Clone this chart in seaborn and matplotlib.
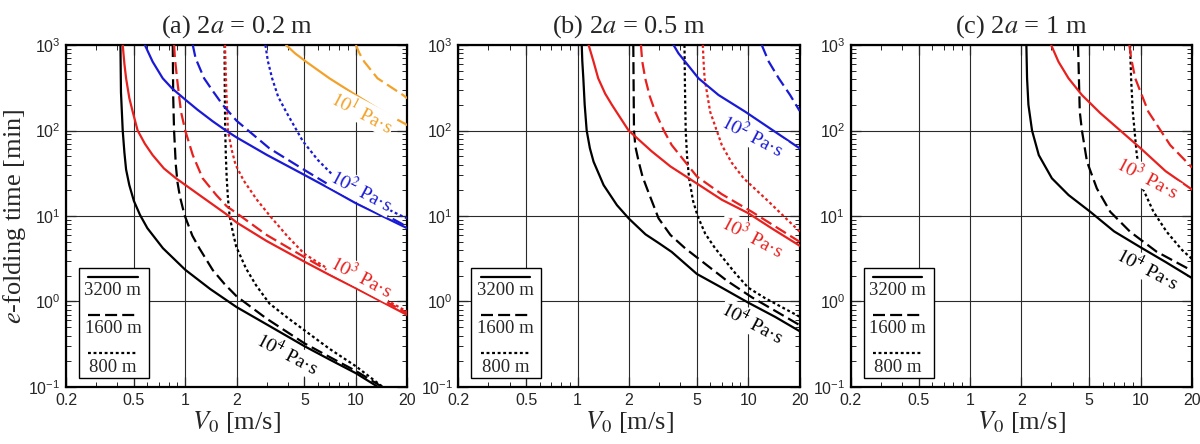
import numpy as np
import pandas as pd
import matplotlib.pyplot as plt
import seaborn as sns
from matplotlib.ticker import NullFormatter

# %%
# values: V0 [m/s] and e-folding time [min]
# naming: <panel>_e<log10 viscosity>_<length in m>

# (a) 2a = 0.2 m
a_e4_3200_V = [0.417, 0.42, 0.43, 0.44, 0.45, 0.47, 0.50, 0.543, 0.60, 0.74, 1.0, 1.4, 2.0, 3.0, 5.0, 7.0, 10.0, 13.5]
a_e4_3200_t = [1000, 280, 100, 55, 35, 23, 15, 10.3, 7.2, 4.2, 2.35, 1.4, 0.86, 0.54, 0.30, 0.21, 0.145, 0.1]
a_e4_1600_V = [0.845, 0.85, 0.86, 0.88, 0.90, 0.93, 0.99, 1.1, 1.21, 1.45, 1.7, 2.0, 3.0, 5.0, 7.0, 10.0, 14.3]
a_e4_1600_t = [1000, 250, 100, 40, 25, 17, 10.3, 5.9, 4.19, 2.33, 1.6, 1.15, 0.63, 0.324, 0.225, 0.154, 0.1]
a_e4_800_V = [1.70, 1.705, 1.715, 1.73, 1.75, 1.78, 1.82, 1.90, 1.99, 2.27, 2.6, 3.11, 4.0, 5.0, 7.0, 10.0, 14.4]
a_e4_800_t = [1000, 300, 100, 50, 27.6, 16, 10.0, 6.5, 4.37, 2.44, 1.55, 0.95, 0.64, 0.46, 0.28, 0.175, 0.1]

a_e3_3200_V = [0.43, 0.44, 0.45, 0.47, 0.492, 0.526, 0.58, 0.644, 0.75, 0.883, 1.21, 1.73, 2.0, 3.0, 5.0, 7.0, 10.0, 20.0]
a_e3_3200_t = [1000, 600, 408, 240, 166, 100, 70, 51.6, 36, 27.6, 17.6, 10.6, 8.4, 5.1, 2.92, 2.05, 1.43, 0.695]
a_e3_1600_V = [0.86, 0.87, 0.895, 0.944, 1.0, 1.107, 1.265, 1.52, 1.75, 2.0, 3.0, 5.0, 7.0, 10.0, 20.0]
a_e3_1600_t = [1000, 700, 408, 166, 100, 51.6, 27.6, 17.6, 13.0, 10.8, 6.0, 3.3, 2.25, 1.55, 0.73]
a_e3_800_V = [1.71, 1.74, 1.78, 1.87, 1.97, 2.2, 2.63, 3.14, 4.0, 5.0, 7.0, 10.0, 20.0]
a_e3_800_t = [1000, 300, 100, 60, 40, 26, 15.5, 10.0, 5.7, 3.6, 2.35, 1.65, 0.76]

a_e2_3200_V = [0.58, 0.644, 0.738, 0.837, 1.0, 1.18, 1.45, 1.73, 2.0, 3.0, 5.0, 7.0, 10.0, 20.0]
a_e2_3200_t = [1000, 638, 408, 311, 230, 175, 128, 100, 83, 52, 30.2, 21, 14.1, 7.2]
a_e2_1600_V = [1.107, 1.15, 1.29, 1.45, 1.66, 2.0, 3.11, 5.0, 7.0, 10.0, 20.0]
a_e2_1600_t = [1000, 700, 408, 290, 199, 130, 62, 34.5, 23, 15.8, 7.5]
a_e2_800_V = [2.95, 3.05, 3.23, 3.50, 3.90, 4.89, 6.0, 7.67, 10.0, 12.6, 18.0, 20.0]
a_e2_800_t = [1000, 650, 408, 250, 166, 75, 45, 27.5, 19.5, 14.7, 10.3, 9.4]

a_e1_3200_V = [3.90, 4.4, 5.11, 7.0, 10.0, 14.4, 20.0]
a_e1_3200_t = [1000, 800, 638, 408, 260, 166, 116]
a_e1_1600_V = [10.0, 10.5, 11.2, 13.4, 18.9, 20.0]
a_e1_1600_t = [1000, 800, 638, 408, 260, 238]

# (b) 2a = 0.5 m
b_e4_3200_V = [1.057, 1.065, 1.08, 1.1, 1.13, 1.18, 1.24, 1.42, 1.70, 2.0, 2.5, 3.0, 3.56, 5.0, 7.0, 10.0, 14.4, 20.0]
b_e4_3200_t = [1000, 650, 408, 200, 100, 62, 43.2, 23, 13.4, 9.3, 6.1, 4.8, 3.8, 2.1, 1.45, 0.97, 0.66, 0.45]
b_e4_1600_V = [2.12, 2.13, 2.14, 2.18, 2.28, 2.4, 2.55, 2.98, 3.5, 4.27, 5.71, 7.5, 10.5, 20.0]
b_e4_1600_t = [1000, 300, 100, 65, 43.2, 29, 21, 9.4, 6.0, 4.19, 2.67, 1.75, 1.12, 0.53]
b_e4_800_V = [4.23, 4.26, 4.3, 4.38, 4.5, 4.75, 5.05, 5.6, 6.4, 8.4, 10.0, 12.6, 20.0]
b_e4_800_t = [1000, 300, 100, 50, 27.6, 15, 10, 6.2, 4.19, 2.14, 1.45, 1.09, 0.665]

b_e3_3200_V = [1.16, 1.24, 1.32, 1.45, 1.59, 1.99, 2.72, 3.5, 5.0, 7.0, 10.0, 14.0, 20.0]
b_e3_3200_t = [1000, 638, 408, 270, 199, 100, 57, 38, 24, 15.5, 10.8, 7.0, 4.5]
b_e3_1600_V = [2.35, 2.39, 2.49, 2.65, 2.85, 3.2, 3.56, 5.0, 7.0, 10.5, 20.0]
b_e3_1600_t = [1000, 650, 408, 250, 166, 100, 67.6, 29, 18, 11.2, 5.0]
b_e3_800_V = [5.42, 5.47, 5.55, 5.98, 7.0, 8.0, 9.4, 13.2, 17.2, 20.0]
b_e3_800_t = [1000, 650, 408, 166, 67.6, 42, 27.6, 14.7, 8.8, 6.6]

b_e2_3200_V = [3.65, 3.9, 4.27, 5.11, 6.7, 9.6, 13.5, 20.0]
b_e2_3200_t = [1000, 800, 638, 408, 260, 166, 105, 62]
b_e2_1600_V = [12.0, 13.2, 15.1, 17.6, 20.0]
b_e2_1600_t = [1000, 638, 408, 260, 170]

# (c) 2a = 1 m
c_e4_3200_V = [2.14, 2.16, 2.2, 2.31, 2.53, 3.02, 3.78, 5.07, 7.0, 10.0, 14.0, 20.0]
c_e4_3200_t = [1000, 408, 200, 100, 51.6, 27.6, 17.6, 11.2, 6.6, 4.3, 2.9, 1.88]
c_e4_1600_V = [4.3, 4.35, 4.4, 4.53, 4.85, 5.54, 6.64, 8.67, 12.4, 20.0]
c_e4_1600_t = [1000, 400, 166, 100, 43.2, 21, 11.2, 6.56, 3.83, 2.29]
c_e4_800_V = [8.67, 8.8, 9.0, 9.5, 10.3, 11.9, 14.2, 17.5, 20.0]
c_e4_800_t = [1000, 400, 166, 51.6, 21, 11.2, 6.56, 4.0, 3.15]

c_e3_3200_V = [2.99, 3.3, 3.78, 4.53, 5.8, 7.6, 10.0, 14.0, 20.0]
c_e3_3200_t = [1000, 638, 408, 260, 160, 100, 62, 33.5, 20.4]
c_e3_1600_V = [8.6, 8.8, 9.3, 11.1, 14.9, 20.0]
c_e3_1600_t = [1000, 700, 408, 166, 67.6, 37]

panel_titles = ['(a) 2$a$ = 0.2 m', '(b) 2$a$ = 0.5 m', '(c) 2$a$ = 1 m']
x_ticks = [0.2, 0.5, 1, 2, 5, 10, 20]
x_tick_labels = ['0.2', '0.5', '1', '2', '5', '10', '20']
lengths = ['3200', '1600', '800']

# curve labels: panel, exponent, V and t of the label centre
label_panel = ['a', 'a', 'a', 'a', 'b', 'b', 'b', 'c', 'c']
label_exp = ['1', '2', '3', '4', '2', '3', '4', '3', '4']
label_V = [10.9, 10.8, 10.8, 3.96, 10.6, 10.6, 10.6, 10.9, 10.9]
label_t = [164, 19.6, 1.94, 0.243, 86, 5.7, 0.56, 27.8, 2.4]

# %%
curves = {
    ('a', '4', '3200'): (a_e4_3200_V, a_e4_3200_t),
    ('a', '4', '1600'): (a_e4_1600_V, a_e4_1600_t),
    ('a', '4', '800'): (a_e4_800_V, a_e4_800_t),
    ('a', '3', '3200'): (a_e3_3200_V, a_e3_3200_t),
    ('a', '3', '1600'): (a_e3_1600_V, a_e3_1600_t),
    ('a', '3', '800'): (a_e3_800_V, a_e3_800_t),
    ('a', '2', '3200'): (a_e2_3200_V, a_e2_3200_t),
    ('a', '2', '1600'): (a_e2_1600_V, a_e2_1600_t),
    ('a', '2', '800'): (a_e2_800_V, a_e2_800_t),
    ('a', '1', '3200'): (a_e1_3200_V, a_e1_3200_t),
    ('a', '1', '1600'): (a_e1_1600_V, a_e1_1600_t),
    ('b', '4', '3200'): (b_e4_3200_V, b_e4_3200_t),
    ('b', '4', '1600'): (b_e4_1600_V, b_e4_1600_t),
    ('b', '4', '800'): (b_e4_800_V, b_e4_800_t),
    ('b', '3', '3200'): (b_e3_3200_V, b_e3_3200_t),
    ('b', '3', '1600'): (b_e3_1600_V, b_e3_1600_t),
    ('b', '3', '800'): (b_e3_800_V, b_e3_800_t),
    ('b', '2', '3200'): (b_e2_3200_V, b_e2_3200_t),
    ('b', '2', '1600'): (b_e2_1600_V, b_e2_1600_t),
    ('c', '4', '3200'): (c_e4_3200_V, c_e4_3200_t),
    ('c', '4', '1600'): (c_e4_1600_V, c_e4_1600_t),
    ('c', '4', '800'): (c_e4_800_V, c_e4_800_t),
    ('c', '3', '3200'): (c_e3_3200_V, c_e3_3200_t),
    ('c', '3', '1600'): (c_e3_1600_V, c_e3_1600_t),
}

frames = []
for (panel, eta, L), (V, t) in curves.items():
    frames.append(pd.DataFrame({'panel': panel, 'eta': eta, 'L': L, 'V': V, 't': t}))
df = pd.concat(frames, ignore_index=True)

# %%
sns.set_style('ticks')
plt.rcParams['font.family'] = ['Liberation Sans', 'DejaVu Sans']
plt.rcParams['mathtext.fontset'] = 'stix'
serif = ['Liberation Serif', 'DejaVu Serif']

colors = {'1': '#f2a22a', '2': '#1a1ad6', '3': '#e8201e', '4': 'black'}
dash_map = {'3200': '', '1600': (5.4, 2.3), '800': (1.3, 1.2)}

fig, axs = plt.subplots(1, 3, figsize=(12, 4.44), dpi=100)
fig.subplots_adjust(left=0.055, right=0.9933, bottom=0.1284, top=0.8986, wspace=0.15)

for ax, panel, title in zip(axs, ['a', 'b', 'c'], panel_titles):
    sub = df[df['panel'] == panel]
    sns.lineplot(data=sub, x='V', y='t', hue='eta', style='L', palette=colors,
                 dashes=dash_map, estimator=None, sort=False, legend=False,
                 lw=1.6, ax=ax, zorder=3)
    ax.set_xscale('log')
    ax.set_yscale('log')
    ax.set_xlim(0.2, 20)
    ax.set_ylim(0.1, 1000)
    ax.set_xticks(x_ticks)
    ax.set_xticklabels(x_tick_labels)
    ax.xaxis.set_minor_formatter(NullFormatter())
    ax.yaxis.set_minor_formatter(NullFormatter())
    ax.grid(True, which='major', color='#2a2a2a', lw=0.8)
    ax.set_axisbelow(True)
    ax.tick_params(which='both', direction='in', top=True, right=True, labelsize=11.5, pad=4)
    ax.tick_params(which='major', length=7, width=0.9)
    ax.tick_params(which='minor', length=3.5, width=0.7)
    for s in ax.spines.values():
        s.set_linewidth(1.6)
        s.set_color('black')
    ax.set_title(title, family=serif, fontsize=19, pad=9)
    ax.set_xlabel('$V_0$ [m/s]', family=serif, fontsize=19, labelpad=1)
    ax.set_ylabel('')

    # curve labels
    for p, e, lv, lt in zip(label_panel, label_exp, label_V, label_t):
        if p != panel:
            continue
        ax.text(lv, lt, '$10^{%s}$ Pa·s' % e, color=colors[e], family=serif, fontsize=14,
                rotation=-28, ha='center', va='center', rotation_mode='anchor', zorder=5,
                bbox=dict(facecolor='white', edgecolor='none', pad=0.5))

    # length key, lines above their text
    ax.add_patch(plt.Rectangle((0.038, 0.026), 0.205, 0.322, transform=ax.transAxes,
                               facecolor='white', edgecolor='black', lw=1.0, zorder=6))
    for L, ly, ty in zip(lengths, [0.322, 0.2105, 0.100], [0.283, 0.171, 0.057]):
        ax.plot([0.065, 0.21], [ly, ly], transform=ax.transAxes, color='black', lw=1.6,
                dashes=dash_map[L], zorder=7)
        ax.text(0.1375, ty, L + ' m', transform=ax.transAxes, ha='center', va='center',
                family=serif, fontsize=13.5, zorder=7)

axs[0].set_ylabel('$e$-folding time [min]', family=serif, fontsize=19)
axs[0].yaxis.set_label_coords(-0.11, 0.5)

plt.savefig('out.png', dpi=100)
